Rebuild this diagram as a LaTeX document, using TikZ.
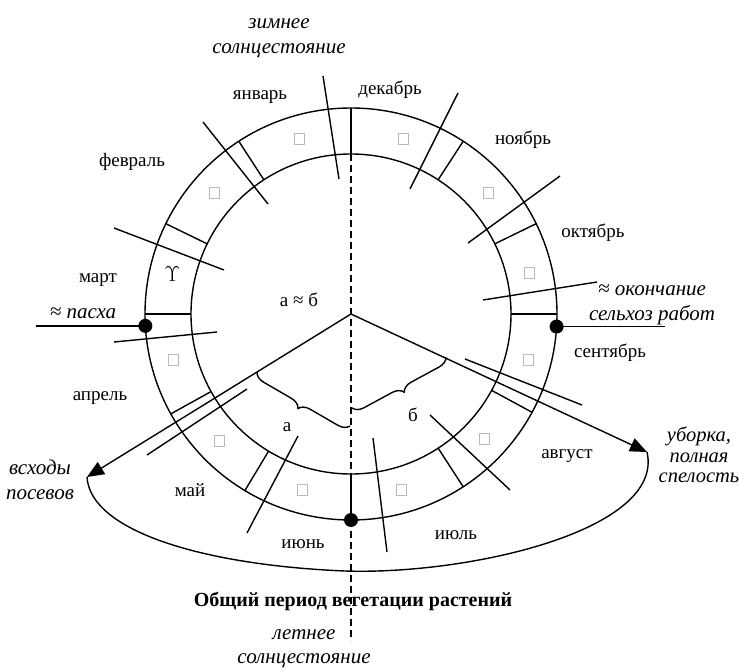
\documentclass[tikz,border=0pt]{standalone}
\usepackage{fontspec}
\setmainfont{Liberation Serif}
\usetikzlibrary{decorations.pathreplacing,arrows.meta,calc}
\begin{document}
\begin{tikzpicture}[x=1pt,y=-1pt,line width=1.4pt,
  lbl/.style={font=\fontsize{19}{24}\selectfont,inner sep=0pt},
  ilbl/.style={font=\fontsize{21}{25}\selectfont\itshape,inner sep=0pt,align=center},
  sq/.style={draw=gray!55,line width=0.7pt,minimum width=10pt,minimum height=11pt,inner sep=0pt},
  dot/.style={circle,fill=black,inner sep=0pt,minimum size=14pt},
  dsh/.style={dash pattern=on 7pt off 4pt},
  brc/.style={decorate,decoration={brace,amplitude=11pt}},
  arr/.style={-{Triangle[length=17pt,width=14pt]}}]
\useasboundingbox (0,0) rectangle (739,671);
\coordinate (C) at (351,314);
% rings
\draw (C) circle[radius=206pt];
\draw (C) circle[radius=160pt];
% month separators
\foreach \a [count=\i] in {0,26,57,90,123,154,180,209,239,270,303,331.5} {
  \coordinate (si\i) at ($(C)+({160*cos(\a)},{-160*sin(\a)})$);
  \coordinate (so\i) at ($(C)+({206*cos(\a)},{-206*sin(\a)})$);
  \draw (si\i) -- (so\i);
}
% month squares
\foreach \a [count=\i] in {13,41.5,73.5,106.5,138.5,194.5,224,254.5,286,317,345.5} {
  \node[sq] (q\i) at ($(C)+({183*cos(\a)},{-183*sin(\a)})$) {};
}
\node[lbl,scale=1.25] (aries) at ($(C)+({183*cos(167.5)},{-183*sin(167.5)})$) {$\Upsilon$};
% dashed solstice axis
\coordinate (ls) at (351,641);
\draw[dsh] (si4) -- (si10);
% crossing ticks
\coordinate (t1a) at (323,76);  \coordinate (t1b) at (339,179);
\coordinate (t2a) at (203,122); \coordinate (t2b) at (268,204);
\coordinate (t3a) at (114,228); \coordinate (t3b) at (224,270);
\coordinate (t4a) at (114,342); \coordinate (t4b) at (217,332);
\coordinate (t5a) at (147,455); \coordinate (t5b) at (247,389);
\coordinate (t6a) at (247,533); \coordinate (t6b) at (298,436);
\coordinate (t7a) at (373,438); \coordinate (t7b) at (387,552);
\coordinate (t8a) at (430,415); \coordinate (t8b) at (510,490);
\coordinate (t9a) at (465,359); \coordinate (t9b) at (582,405);
\coordinate (t10a) at (483,300); \coordinate (t10b) at (597,282);
\coordinate (t11a) at (468,243); \coordinate (t11b) at (560,176);
\coordinate (t12a) at (410,189); \coordinate (t12b) at (458,93);
\foreach \i in {1,...,12} {\draw (t\i a) -- (t\i b);}
% arrows and growing-period curve
\coordinate (L) at (87,477);
\coordinate (R) at (647,452);
\coordinate (B) at (345,571);
\draw[arr] (C) -- (L);
\draw[arr] (C) -- (R);
\draw (L) .. controls (90,530) and (200,565) .. (B) .. controls (470,575) and (665,530) .. (R);
% braces
\coordinate (ba1) at (350,426); \coordinate (ba2) at (257,372);
\coordinate (bb1) at (446,357); \coordinate (bb2) at (352,408);
\draw[brc] (ba1) -- (ba2);
\draw[brc] (bb1) -- (bb2);
% dots
\node[dot] (dL) at ($(C)+({206*cos(183.3)},{-206*sin(183.3)})$) {};
\node[dot] (dR) at ($(C)+({206*cos(356.5)},{-206*sin(356.5)})$) {};
\node[dot] (dB) at (so10) {};
\draw[dsh] (dB.center) -- (ls);
\coordinate (pE) at ($(dL)+(-109,0)$);
\coordinate (oE) at ($(dR)+(108,0)$);
\draw (pE) -- (dL.center);
\draw (dR.center) -- (oE);
% month labels
\node[lbl] (jan) at (260,97) {январь};
\node[lbl] (dec) at (390,90) {декабрь};
\node[lbl] (nov) at (523,140) {ноябрь};
\node[lbl] (oct) at (593,233) {октябрь};
\node[lbl] (sep) at (610,353) {сентябрь};
\node[lbl] (feb) at (132,162) {февраль};
\node[lbl] (mar) at (98,280) {март};
\node[lbl] (apr) at (100,398) {апрель};
\node[lbl] (may) at (190,490) {май};
\node[lbl] (jun) at (303,544) {июнь};
\node[lbl] (jul) at (456,535) {июль};
\node[lbl] (aug) at (567,456) {август};
% other labels
\node[lbl] (ab) at (299,300) {а ≈ б};
\node[lbl] (la) at (287,427) {а};
\node[lbl] (lb) at (413,415) {б};
\node[ilbl] (win) at (279,38) {зимнее\\солнцестояние};
\node[ilbl,font=\fontsize{21}{24}\selectfont\itshape] (sum) at (304,649) {летнее\\солнцестояние};
\node[ilbl] (easter) at (83,313) {≈ пасха};
\node[ilbl] (endw) at (652,305) {≈ окончание\\сельхоз работ};
\node[ilbl] (sprout) at (40,480) {всходы\\посевов};
\node[ilbl,font=\fontsize{20.5}{20.5}\selectfont\itshape] (harv) at (699,455) {уборка,\\полная\\спелость};
\node[lbl,font=\fontsize{20}{24}\selectfont\bfseries] (title) at (353,601) {Общий период вегетации растений};
\end{tikzpicture}
\end{document}
